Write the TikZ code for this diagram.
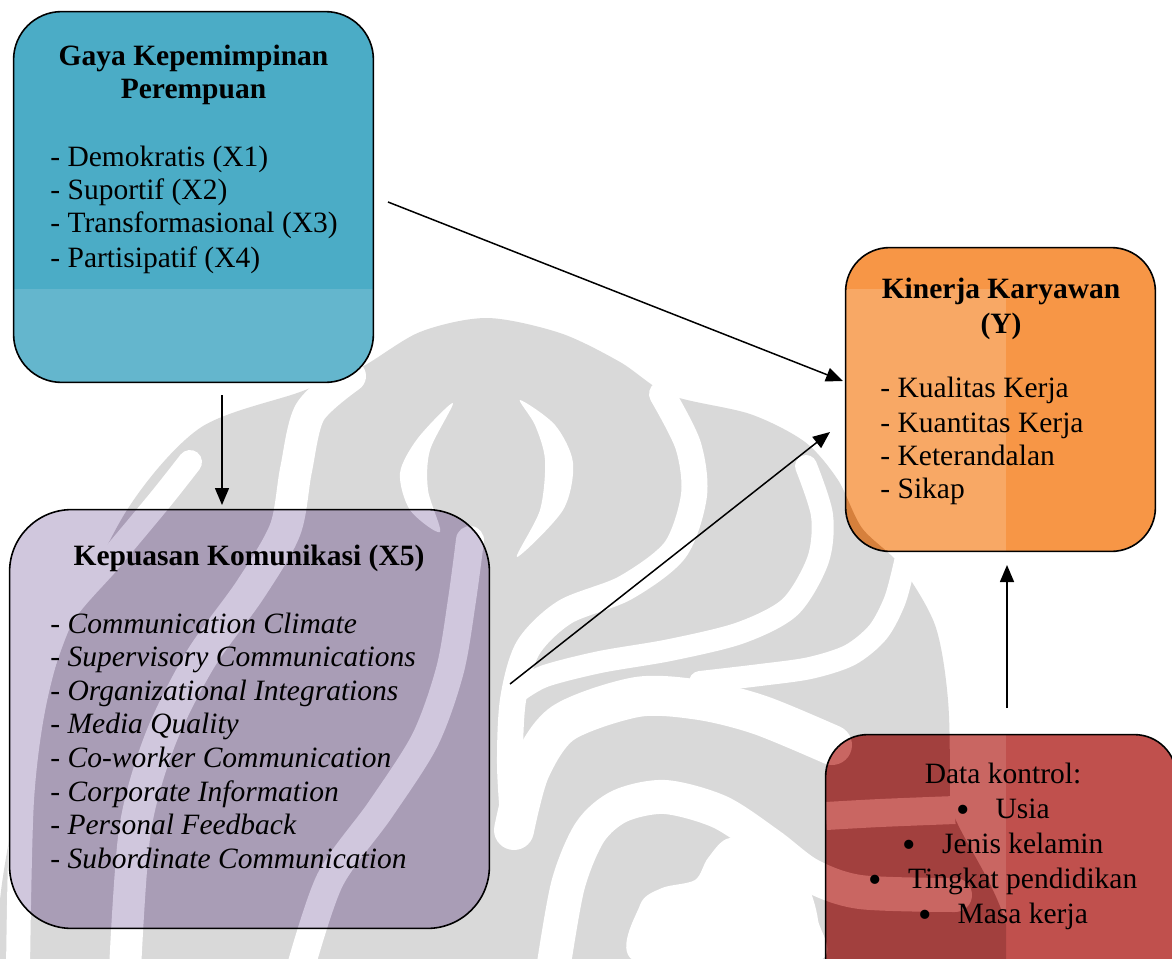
\documentclass[tikz,border=0pt]{standalone}
\usepackage{fontspec}
\setmainfont{Liberation Serif}
\usetikzlibrary{arrows.meta}

% box colours: base, lightened and shaded variants
\definecolor{bluebase}{HTML}{4BACC6}
\definecolor{bluelt}{HTML}{64B6CD}
\definecolor{bluedk}{HTML}{4093A8}
\definecolor{orbase}{HTML}{F79646}
\definecolor{orlt}{HTML}{F8A865}
\definecolor{ordk}{HTML}{D6803C}
\definecolor{pult}{HTML}{D0C7DD}
\definecolor{pudk}{HTML}{A99DB6}
\definecolor{redbase}{HTML}{C0504D}
\definecolor{redlt}{HTML}{C96662}
\definecolor{reddk}{HTML}{A2403E}
\definecolor{wmgray}{HTML}{D9D9D9}

% background emblem: #1 = ink colour, #2 = paper colour
\newcommand\wmlogo[2]{%
  \fill[#1] plot[smooth cycle] coordinates {(0,1000) (0,900) (22,780) (65,640)
    (127,510) (200,428) (300,392) (360,368) (420,332) (487,318) (560,333)
    (620,362) (670,395) (750,414) (805,442) (838,480) (862,528) (900,565)
    (935,625) (948,700) (950,800) (950,1000)};
  \begin{scope}[line cap=round]
    \draw[#2, line width=12pt] plot[smooth] coordinates {(190,462) (160,500)
      (110,560) (60,620) (35,700) (22,800) (18,970)};
    \draw[#2, line width=16pt] plot[smooth] coordinates {(350,376) (310,412)
      (296,470) (285,530) (250,590) (200,660) (160,740) (135,830) (125,970)};
    \draw[#2, line width=14pt] plot[smooth] coordinates {(470,540) (462,600)
      (450,670) (425,740) (380,810) (330,880) (300,970)};
    \draw[#2, line width=13pt] plot[smooth] coordinates {(662,394) (688,445)
      (694,495) (675,550) (625,588) (565,612) (528,648) (513,700) (510,765)
      (514,830)};
    \draw[#2, line width=11pt] plot[smooth] coordinates {(806,466) (822,515)
      (818,560) (790,607) (740,633) (670,650) (600,662) (545,676) (520,690)};
    \draw[#2, line width=11pt] plot[smooth] coordinates {(905,562) (895,600)
      (878,632) (850,655) (810,668) (760,675) (700,682)};
    \draw[#2, line width=20pt] plot[smooth] coordinates {(514,830) (530,770)
      (563,723) (637,697) (700,700) (760,715) (832,745)};
    \draw[#2, line width=17pt] plot[smooth] coordinates {(553,970) (568,885)
      (590,832) (620,806) (665,797) (720,812) (770,845) (810,875) (860,892)
      (955,895)};
    \draw[#2, line width=14pt, line cap=butt] plot[smooth] coordinates
      {(826,816) (880,813) (955,810)};
  \end{scope}
  \fill[#2] plot[smooth cycle] coordinates {(453,403) (418,438) (400,473)
    (410,510) (440,532) (428,490) (430,450)};
  \fill[#2] plot[smooth cycle] coordinates {(520,400) (555,425) (573,463)
    (563,510) (517,557) (540,510) (545,460) (535,425)};
  \fill[#2] plot[smooth cycle] coordinates {(637,962) (640,905) (662,888)
    (695,880) (708,858) (730,838) (775,852) (805,880) (818,920) (815,962)};
}

% shading of a box where the emblem shows through, then its outline
\newcommand\shadebox[4]{%
  \begin{scope}
    \clip[rounded corners=#2] (#1.south west) rectangle (#1.north east);
    \clip (0,289) rectangle (1006,958);
    \fill[#3] (0,289) rectangle (1006,958);
    \wmlogo{#4}{#3}
  \end{scope}
  \draw[boxline, rounded corners=#2] (#1.south west) rectangle (#1.north east);
}

\tikzset{
  panel/.style={rectangle, draw=none, inner sep=0pt},
  boxline/.style={draw=black, line width=0.8pt},
  txt/.style={font=\fontsize{14.75pt}{16.75pt}\selectfont, inner sep=0pt,
    text=black, anchor=base west},
  ttl/.style={txt, font=\fontsize{14.75pt}{16.75pt}\selectfont\bfseries,
    anchor=base},
  ctr/.style={txt, anchor=base},
  arr/.style={line width=0.75pt, draw=black,
    -{Triangle[length=8.5pt,width=7pt]}},
}
\newcommand\bul{\raisebox{-2.2pt}{\scalebox{1.3}{\textbullet}}}

\begin{document}
\begin{tikzpicture}[x=0.5pt, y=-0.5pt]
  \useasboundingbox (0,0) rectangle (1172,958);
  \clip (0,0) rectangle (1172,958);
  \fill[white] (0,0) rectangle (1172,958);

  % emblem on the page
  \begin{scope}
    \clip (0,289) rectangle (1006,958);
    \wmlogo{wmgray}{white}
  \end{scope}

  % boxes
  \node[panel, fill=bluebase, rounded corners=24pt, minimum width=179.5pt,
    minimum height=185pt] (gaya) at (193.5,197) {};
  \shadebox{gaya}{24pt}{bluelt}{bluedk}

  \node[panel, fill=orbase, rounded corners=22pt, minimum width=154.5pt,
    minimum height=151.5pt] (kinerja) at (1000.5,399.5) {};
  \shadebox{kinerja}{22pt}{orlt}{ordk}

  \node[panel, fill=pult, rounded corners=31pt, minimum width=239.5pt,
    minimum height=209pt] (kepuasan) at (249.5,719) {};
  \shadebox{kepuasan}{31pt}{pult}{pudk}

  \node[panel, fill=redbase, rounded corners=21pt, minimum width=175pt,
    minimum height=132.5pt] (kontrol) at (1001,867.5) {};
  \shadebox{kontrol}{21pt}{redlt}{reddk}

  % texts: Gaya Kepemimpinan Perempuan
  \node[ttl] (gaya-t1) at (193.5,65) {Gaya Kepemimpinan};
  \node[ttl] (gaya-t2) at (193.5,98) {Perempuan};
  \node[txt] (gaya-1) at (50,166) {- Demokratis (X1)};
  \node[txt] (gaya-2) at (50,199) {- Suportif (X2)};
  \node[txt] (gaya-3) at (50,232) {- Transformasional (X3)};
  \node[txt] (gaya-4) at (50,267) {- Partisipatif (X4)};

  % texts: Kinerja Karyawan
  \node[ttl] (kin-t1) at (1001,298) {Kinerja Karyawan};
  \node[ttl] (kin-t2) at (1001,333) {(Y)};
  \node[txt] (kin-1) at (880,397) {- Kualitas Kerja};
  \node[txt] (kin-2) at (880,432) {- Kuantitas Kerja};
  \node[txt] (kin-3) at (880,465) {- Keterandalan};
  \node[txt] (kin-4) at (880,498) {- Sikap};

  % texts: Kepuasan Komunikasi
  \node[ttl] (kep-t) at (249,565) {Kepuasan Komunikasi (X5)};
  \node[txt] (kep-1) at (50,633) {- \textit{Communication Climate}};
  \node[txt] (kep-2) at (50,666) {- \textit{Supervisory Communications}};
  \node[txt] (kep-3) at (50,700) {- \textit{Organizational Integrations}};
  \node[txt] (kep-4) at (50,733) {- \textit{Media Quality}};
  \node[txt] (kep-5) at (50,767) {- \textit{Co-worker Communication}};
  \node[txt] (kep-6) at (50,801) {- \textit{Corporate Information}};
  \node[txt] (kep-7) at (50,834) {- \textit{Personal Feedback}};
  \node[txt] (kep-8) at (50,868) {- \textit{Subordinate Communication}};

  % texts: Data kontrol
  \node[ctr] (dk-t) at (1003,783) {Data kontrol:};
  \node[ctr] (dk-1) at (1003,818) {\bul\hspace{13pt}Usia};
  \node[ctr] (dk-2) at (1003,853) {\bul\hspace{13pt}Jenis kelamin};
  \node[ctr] (dk-3) at (1003,888) {\bul\hspace{13pt}Tingkat pendidikan};
  \node[ctr] (dk-4) at (1003,923) {\bul\hspace{13pt}Masa kerja};

  % connector end points, kept clear of the box outlines
  \coordinate (g-out) at (388,202);
  \coordinate (k-in1) at (843,381);
  \coordinate (g-down) at (222,395);
  \coordinate (kp-in) at (222,505);
  \coordinate (kp-out) at (510,684);
  \coordinate (k-in2) at (830,432);
  \coordinate (dk-out) at (1007,708);
  \coordinate (k-in3) at (1007,565);

  \draw[arr] (g-out) -- (k-in1);
  \draw[arr] (g-down) -- (kp-in);
  \draw[arr] (kp-out) -- (k-in2);
  \draw[arr] (dk-out) -- (k-in3);
\end{tikzpicture}
\end{document}
